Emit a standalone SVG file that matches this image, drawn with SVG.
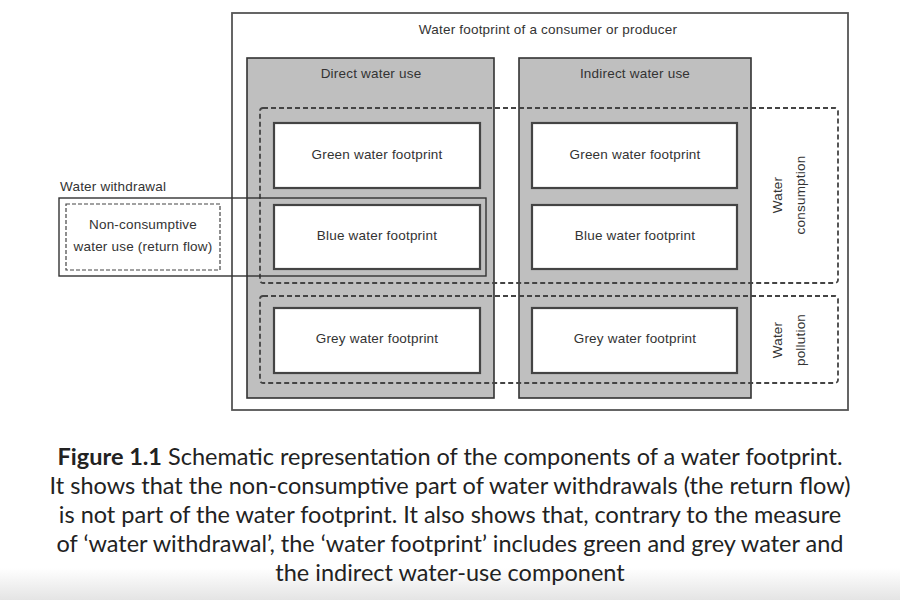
<svg xmlns="http://www.w3.org/2000/svg" width="900" height="600" viewBox="0 0 900 600">
<defs>
<linearGradient id="fade" x1="0" y1="0" x2="0" y2="1">
<stop offset="0" stop-color="#ffffff"/>
<stop offset="1" stop-color="#e4e4e4"/>
</linearGradient>
<style>
.lbl{font-family:"Liberation Sans",Arial,sans-serif;font-size:13.5px;fill:#333;text-anchor:middle;letter-spacing:0.2px}
.cap{font-family:Lato,"Open Sans",sans-serif;font-size:23.5px;fill:#222;text-anchor:middle}
.outer{fill:#fff;stroke:#555;stroke-width:1.8}
.grp{fill:#bfbfbf;stroke:#333;stroke-width:1.6}
.box{fill:#fff;stroke:#444;stroke-width:2.2}
.dash{fill:none;stroke:#444;stroke-width:1.8;stroke-dasharray:5,3}
.solid{fill:none;stroke:#333;stroke-width:1.4}
</style>
</defs>
<rect width="900" height="600" fill="#fff"/>
<rect x="0" y="568" width="900" height="32" fill="url(#fade)"/>

<g id="footprint">
<rect class="outer" x="232" y="13" width="616" height="397"/>
<text class="lbl" x="548" y="34">Water footprint of a consumer or producer</text>
</g>

<g id="direct">
<rect class="grp" x="247" y="58" width="247" height="340"/>
<text class="lbl" x="371" y="78">Direct water use</text>
</g>
<g id="indirect">
<rect class="grp" x="519" y="58" width="232" height="340"/>
<text class="lbl" x="635" y="78">Indirect water use</text>
</g>

<g id="direct-green">
<rect class="box" x="274" y="123" width="206" height="65"/>
<text class="lbl" x="377" y="159">Green water footprint</text>
</g>
<g id="direct-blue">
<rect class="box" x="274" y="205" width="206" height="64"/>
<text class="lbl" x="377" y="240">Blue water footprint</text>
</g>
<g id="direct-grey">
<rect class="box" x="274" y="308" width="206" height="65"/>
<text class="lbl" x="377" y="343">Grey water footprint</text>
</g>
<g id="indirect-green">
<rect class="box" x="532" y="123" width="205" height="65"/>
<text class="lbl" x="635" y="159">Green water footprint</text>
</g>
<g id="indirect-blue">
<rect class="box" x="532" y="205" width="205" height="64"/>
<text class="lbl" x="635" y="240">Blue water footprint</text>
</g>
<g id="indirect-grey">
<rect class="box" x="532" y="308" width="205" height="65"/>
<text class="lbl" x="635" y="343">Grey water footprint</text>
</g>

<g id="consumption">
<rect class="dash" x="260" y="108" width="578" height="175" rx="3"/>
<text class="lbl" transform="translate(782,195) rotate(-90)">Water</text>
<text class="lbl" transform="translate(805,195) rotate(-90)">consumption</text>
</g>
<g id="pollution">
<rect class="dash" x="260" y="296" width="578" height="87" rx="3"/>
<text class="lbl" transform="translate(782,340) rotate(-90)">Water</text>
<text class="lbl" transform="translate(805,340) rotate(-90)">pollution</text>
</g>

<g id="withdrawal">
<rect class="solid" x="59" y="198" width="427" height="78"/>
<text class="lbl" x="60" y="191" style="text-anchor:start">Water withdrawal</text>
</g>
<g id="return-flow">
<rect class="dash" x="66" y="204" width="154" height="66" style="stroke-width:1.2;stroke-dasharray:4,2"/>
<text class="lbl" x="143" y="229">Non-consumptive</text>
<text class="lbl" x="143" y="251">water use (return flow)</text>
</g>

<g id="connectors"></g>

<g id="caption">
<text class="cap" x="450" y="465"><tspan font-weight="bold">Figure 1.1</tspan>  Schematic representation of the components of a water footprint.</text>
<text class="cap" x="450" y="494">It shows that the non-consumptive part of water withdrawals (the return flow)</text>
<text class="cap" x="450" y="523">is not part of the water footprint. It also shows that, contrary to the measure</text>
<text class="cap" x="450" y="552">of ‘water withdrawal’, the ‘water footprint’ includes green and grey water and</text>
<text class="cap" x="450" y="581">the indirect water-use component</text>
</g>
</svg>
